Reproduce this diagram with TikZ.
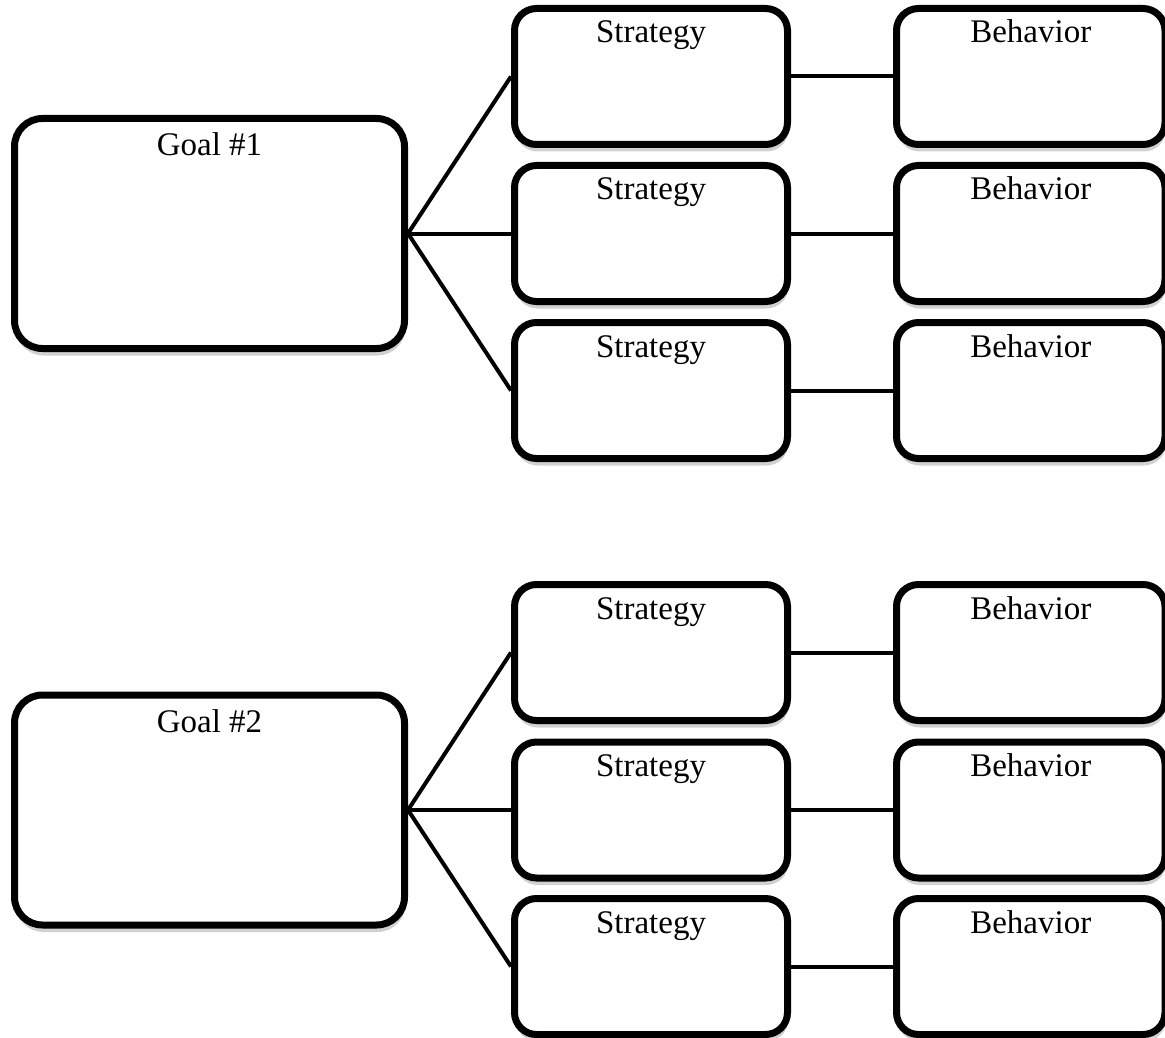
\documentclass[tikz,border=0pt]{standalone}
\usepackage{fontspec}
\setmainfont{Liberation Serif}
\usetikzlibrary{shadows}
\begin{document}
\begin{tikzpicture}[x=1pt,y=-1pt,
  boxbase/.style={draw=black, line width=7pt, fill=white, inner sep=0pt,
    font=\fontsize{33}{40}\selectfont,
    drop shadow={shadow xshift=1pt, shadow yshift=-7pt, opacity=0.18, fill=black}},
  goalbox/.style={boxbase, rounded corners=28pt, minimum width=390pt,
    text height=37.5pt, text depth=192.5pt},
  stratbox/.style={boxbase, rounded corners=22pt, minimum width=273pt,
    text height=34.5pt, text depth=101.5pt},
  behbox/.style={boxbase, rounded corners=22pt, minimum width=268.5pt,
    text height=34.5pt, text depth=101.5pt},
  conn/.style={draw=black, line width=4pt}]
\useasboundingbox[fill=white] (0,0) rectangle (1165,1038);

% Goal 1 group
\node[goalbox] (g1) at (209.5,233.5) {Goal \#1};
\node[stratbox] (s1) at (651,76.5) {Strategy};
\node[stratbox] (s2) at (651,233.5) {Strategy};
\node[stratbox] (s3) at (651,390.5) {Strategy};
\node[behbox] (b1) at (1030.75,76.5) {Behavior};
\node[behbox] (b2) at (1030.75,233.5) {Behavior};
\node[behbox] (b3) at (1030.75,390.5) {Behavior};

% Goal 2 group
\node[goalbox] (g2) at (209.5,810) {Goal \#2};
\node[stratbox] (s4) at (651,652.5) {Strategy};
\node[stratbox] (s5) at (651,810) {Strategy};
\node[stratbox] (s6) at (651,966.5) {Strategy};
\node[behbox] (b4) at (1030.75,652.5) {Behavior};
\node[behbox] (b5) at (1030.75,810) {Behavior};
\node[behbox] (b6) at (1030.75,966.5) {Behavior};

% connectors
\draw[conn] (g1.east) -- (s1.west);
\draw[conn] (g1.east) -- (s2.west);
\draw[conn] (g1.east) -- (s3.west);
\draw[conn] (s1.east) -- (b1.west);
\draw[conn] (s2.east) -- (b2.west);
\draw[conn] (s3.east) -- (b3.west);
\draw[conn] (g2.east) -- (s4.west);
\draw[conn] (g2.east) -- (s5.west);
\draw[conn] (g2.east) -- (s6.west);
\draw[conn] (s4.east) -- (b4.west);
\draw[conn] (s5.east) -- (b5.west);
\draw[conn] (s6.east) -- (b6.west);
\end{tikzpicture}
\end{document}
